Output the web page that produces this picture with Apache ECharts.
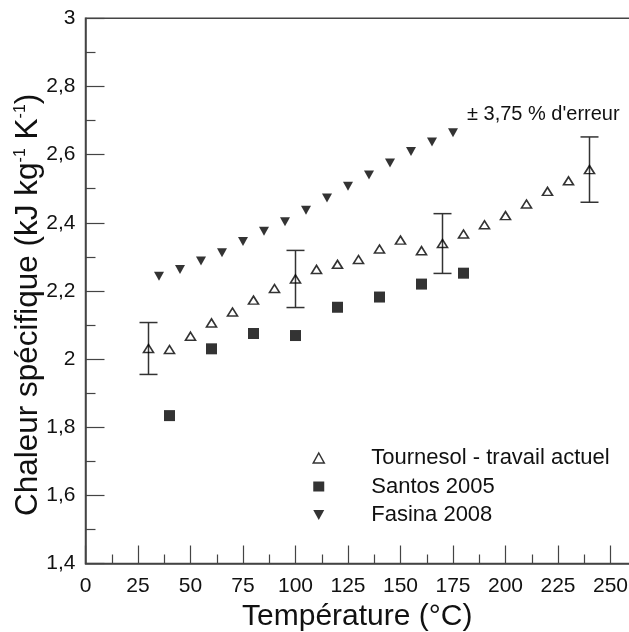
<!DOCTYPE html>
<html><head><meta charset="utf-8">
<script src="https://cdn.jsdelivr.net/npm/echarts@6/dist/echarts.min.js"></script>
<style>html,body{margin:0;padding:0;background:#fff}#c{width:629px;height:632px}</style>
</head><body><div id="c"></div>
<script>
const tournesolX = [30,40,50,60,70,80,90,100,110,120,130,140,150,160,170,180,190,200,210,220,230,240];
const tournesolY = [2.031,2.028,2.067,2.106,2.138,2.173,2.207,2.235,2.263,2.278,2.292,2.323,2.349,2.318,2.339,2.367,2.394,2.421,2.455,2.492,2.523,2.556];
const santosX = [40,60,80,100,120,140,160,180];
const santosY = [1.834,2.030,2.075,2.069,2.152,2.182,2.220,2.252];
const fasinaX = [35,45,55,65,75,85,95,105,115,125,135,145,155,165,175];
const fasinaY = [2.243,2.263,2.288,2.312,2.345,2.375,2.403,2.437,2.473,2.507,2.540,2.575,2.609,2.637,2.664];
const errorX = [30,100,170,240];
const errorPct = 3.75;
const seriesNames = ['Tournesol - travail actuel','Santos 2005','Fasina 2008'];
const xTitle = 'Température (°C)';
const yTitle = 'Chaleur spécifique (kJ kg{sup|-1} K{sup|-1})';
const annotation = '± 3,75 % d\'erreur';

const zip = (xs, ys) => xs.map((x, i) => [x, ys[i]]);
const errData = errorX.map(x => {
  const y = tournesolY[tournesolX.indexOf(x)];
  return [x, y * (1 - errorPct / 100), y * (1 + errorPct / 100)];
});
const axisCol = '#444';
const downTri = 'path://M0,0L10,0L5,9Z';
const font = 'Liberation Sans, Arial, sans-serif';

const chart = echarts.init(document.getElementById('c'), null, {renderer: 'canvas'});
chart.setOption({
  backgroundColor: '#fff',
  animation: false,
  grid: {left: 85.5, top: 18.3, bottom: 68.5, right: -34, outerBoundsMode: 'none', containLabel: false,
    show: true, borderColor: axisCol, borderWidth: 1.5, backgroundColor: 'transparent'},
  xAxis: {
    type: 'value', min: 0, max: 275, interval: 25,
    axisLine: {show: true, lineStyle: {color: axisCol, width: 1.5}},
    axisTick: {show: true, inside: true, length: 18, lineStyle: {color: axisCol, width: 1.2}},
    minorTick: {show: true, splitNumber: 2, length: 9, lineStyle: {color: axisCol, width: 1.2}},
    splitLine: {show: false},
    axisLabel: {margin: 12, fontSize: 21, color: '#111', fontFamily: font, showMaxLabel: false},
    name: xTitle, nameLocation: 'middle', nameGap: 38, nameMoveOverlap: false,
    nameTextStyle: {fontSize: 30, color: '#111', fontFamily: font, padding: [0, 34, 0, 0]}
  },
  yAxis: {
    type: 'value', min: 1.4, max: 3, interval: 0.2,
    axisLine: {show: true, lineStyle: {color: axisCol, width: 1.5}},
    axisTick: {show: true, inside: true, length: 19, lineStyle: {color: axisCol, width: 1.2}},
    minorTick: {show: true, splitNumber: 2, length: 10, lineStyle: {color: axisCol, width: 1.2}},
    splitLine: {show: false},
    axisLabel: {margin: 10, fontSize: 21, color: '#111', fontFamily: font,
      formatter: v => String(+v.toFixed(1)).replace('.', ',')},
    name: yTitle, nameLocation: 'middle', nameRotate: 90, nameGap: 41, nameMoveOverlap: false,
    nameTextStyle: {fontSize: 31.5, color: '#111', fontFamily: font, padding: [0, 28, 0, 0],
      rich: {sup: {fontSize: 16, color: '#111', fontFamily: font, verticalAlign: 'top'}}}
  },
  legend: {
    orient: 'vertical', left: 312.5, top: 447, padding: 0, itemGap: 6.5,
    itemWidth: 11, itemHeight: 10,
    textStyle: {fontSize: 22, color: '#111', fontFamily: font, padding: [0, 0, 0, 42]},
    data: [
      {name: seriesNames[0], icon: 'triangle', itemStyle: {color: 'rgba(0,0,0,0)', borderColor: '#000', borderWidth: 1.5}},
      {name: seriesNames[1], icon: 'rect'},
      {name: seriesNames[2], icon: downTri}
    ]
  },
  graphic: [{
    type: 'text', left: 467, top: 104,
    style: {text: annotation, fontSize: 20, fill: '#111', fontFamily: font}
  }],
  series: [
    {
      type: 'custom', name: 'err', data: errData, z: 1,
      encode: {x: 0, y: [1, 2]},
      renderItem: (params, api) => {
        const x = api.value(0), lo = api.value(1), hi = api.value(2);
        const a = api.coord([x, lo]), b = api.coord([x, hi]);
        const hw = 9, st = {stroke: '#333', lineWidth: 1.5};
        return {type: 'group', children: [
          {type: 'line', shape: {x1: a[0], y1: a[1], x2: b[0], y2: b[1]}, style: st},
          {type: 'line', shape: {x1: a[0] - hw, y1: a[1], x2: a[0] + hw, y2: a[1]}, style: st},
          {type: 'line', shape: {x1: b[0] - hw, y1: b[1], x2: b[0] + hw, y2: b[1]}, style: st}
        ]};
      }
    },
    {
      type: 'scatter', name: seriesNames[0], data: zip(tournesolX, tournesolY), z: 3,
      symbol: 'triangle', symbolSize: [10, 8],
      itemStyle: {color: 'rgba(0,0,0,0)', borderColor: '#000', borderWidth: 1.6}
    },
    {
      type: 'scatter', name: seriesNames[1], data: zip(santosX, santosY), z: 3,
      symbol: 'rect', symbolSize: [11, 11], itemStyle: {color: '#000'}
    },
    {
      type: 'scatter', name: seriesNames[2], data: zip(fasinaX, fasinaY), z: 3,
      symbol: downTri, symbolSize: [10, 9], itemStyle: {color: '#000'}
    }
  ]
});
</script>
</body></html>
